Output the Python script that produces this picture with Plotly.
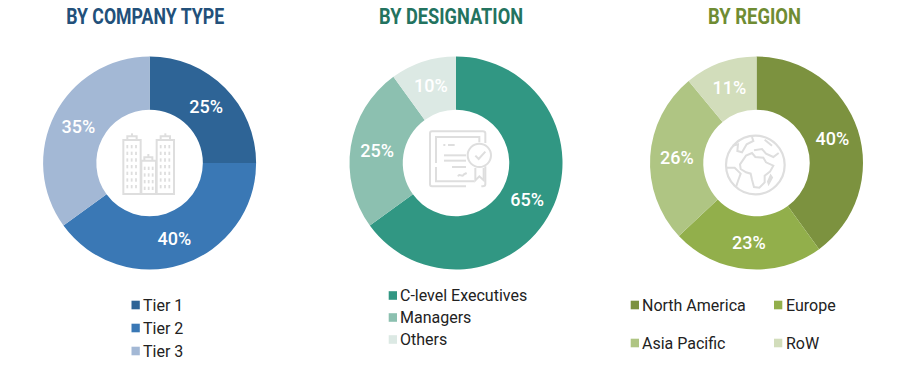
import re
import plotly.graph_objects as go

W, H = 900, 368

# ---------- data ----------
titles = ["BY COMPANY TYPE", "BY DESIGNATION", "BY REGION"]
title_colors = ["#22507A", "#23735F", "#6F8C33"]
title_x = [145, 451, 754]
title_widths = [158, 144, 93]

company_labels = ["Tier 1", "Tier 2", "Tier 3"]
company_values = [25, 40, 35]
company_colors = ["#2E6496", "#3A78B5", "#A3B8D5"]

designation_labels = ["C-level Executives", "Managers", "Others"]
designation_values = [65, 25, 10]
designation_colors = ["#319783", "#8CC0B0", "#DCE9E4"]

region_labels = ["North America", "Europe", "Asia Pacific", "RoW"]
region_values = [40, 23, 26, 11]
region_colors = ["#7C923F", "#92AF4B", "#AFC583", "#D2DDBB"]

# ---------- layout helpers ----------
R = 106.5
CY = 163
centers = [149.6, 456, 756.5]
ICON = "#DEDEDE"


def fx(p):
    return p / W


def fy(p):
    return 1 - p / H


def zpath(ox, oy, d):
    """Icon path given in 3x crop coordinates with origin (ox, oy)."""
    toks = re.findall(r"[MLCZ]|-?\d+\.?\d*", d)
    out, is_x = [], True
    for t in toks:
        if t in "MLCZ":
            out.append(t)
            is_x = True
        elif is_x:
            out.append(f"{fx(ox + float(t) / 3):.5f}")
            is_x = False
        else:
            out.append(f"{fy(oy + float(t) / 3):.5f}")
            is_x = True
    return " ".join(out)


shapes = []
annotations = []


def stroke(ox, oy, d, w=2.0, color=ICON):
    shapes.append(dict(type="path", xref="paper", yref="paper", path=zpath(ox, oy, d),
                       line=dict(color=color, width=w), layer="above"))


fig = go.Figure()
series = [
    (company_labels, company_values, company_colors),
    (designation_labels, designation_values, designation_colors),
    (region_labels, region_values, region_colors),
]
for (labels, values, colors), cx in zip(series, centers):
    fig.add_trace(go.Pie(
        labels=labels, values=values, sort=False, direction="clockwise", rotation=0,
        hole=0.5, marker=dict(colors=colors, line=dict(width=0)),
        textinfo="percent", texttemplate="%{value}%", textposition="inside",
        insidetextorientation="horizontal",
        textfont=dict(family="Roboto", size=18, color="white", weight=500),
        domain=dict(x=[fx(cx - R), fx(cx + R)], y=[fy(CY + R), fy(CY - R)]),
        showlegend=False,
    ))

# titles
for t, c, x in zip(titles, title_colors, title_x):
    annotations.append(dict(text=f"<b>{t}</b>", x=fx(x), y=fy(16.5), xref="paper", yref="paper",
                            xanchor="center", yanchor="middle", showarrow=False,
                            font=dict(family="Roboto", size=22, color=c)))


def legend_item(label, color, sx, y):
    shapes.append(dict(type="rect", xref="paper", yref="paper", layer="above",
                       x0=fx(sx), x1=fx(sx + 8.3), y0=fy(y - 4.3), y1=fy(y + 4.3),
                       fillcolor=color, line=dict(width=0)))
    annotations.append(dict(text=label, x=fx(sx + 9.5), y=fy(y), xref="paper", yref="paper",
                            xanchor="left", yanchor="middle", showarrow=False,
                            font=dict(family="Roboto", size=16, color="#222222")))


for lab, col, y in zip(company_labels, company_colors, [305, 328, 351]):
    legend_item(lab, col, 131.5, y)
for lab, col, y in zip(designation_labels, designation_colors, [295.5, 317.5, 339.5]):
    legend_item(lab, col, 388.7, y)
for lab, col, sx, y in zip(region_labels, region_colors, [630.7, 774, 630.7, 774], [305, 305, 343, 343]):
    legend_item(lab, col, sx, y)

# ---------- building icon ----------
ox, oy = 110, 125
for d in [
    "M 40 207 L 40 45 L 92 45 L 92 207 Z",
    "M 94 207 L 94 107 L 138 107 L 138 207 Z",
    "M 140 207 L 140 45 L 192 45 L 192 207 Z",
    "M 52 45 L 52 34 L 80 34 L 80 45",
    "M 152 45 L 152 34 L 180 34 L 180 45",
    "M 103 107 L 103 97 L 127 97 L 127 107",
    "M 66 34 L 66 25", "M 166 34 L 166 25", "M 115 97 L 115 87",
]:
    stroke(ox, oy, d, 2)
for x0 in (52, 65, 78, 152, 165, 178):
    for k in range(7):
        stroke(ox, oy, f"M {x0} {60 + k * 20} L {x0} {70 + k * 20}", 1.8)
for x0 in (104, 116, 128):
    for k in range(4):
        stroke(ox, oy, f"M {x0} {125 + k * 20} L {x0} {135 + k * 20}", 1.8)

# ---------- certificate icon ----------
ox, oy = 416, 123
for d in [
    "M 150 190 L 48 190 C 44 190 42 188 42 184 L 42 31 C 42 27 44 25 48 25 L 200 25 C 205 25 208 27 208 31 L 208 60",
    "M 208 130 L 208 184 C 208 188 205 190 200 190 L 196 190",
    "M 60 120 L 60 42 L 190 42 L 190 58",
    "M 60 132 L 60 175 L 175 175",
    "M 82 66 L 88 66", "M 96 66 L 116 66",
    "M 84 97 L 150 97", "M 84 113 L 150 113",
    "M 108 132 L 150 132",
    "M 126 160 C 132 148 138 166 144 154 L 152 150",
    "M 178 135 L 178 172 L 190 160 L 203 172 L 203 135",
]:
    stroke(ox, oy, d, 2)
shapes.append(dict(type="circle", xref="paper", yref="paper", layer="above",
                   x0=fx(ox + 155 / 3), x1=fx(ox + 225 / 3),
                   y0=fy(oy + 132 / 3), y1=fy(oy + 62 / 3),
                   fillcolor="white", line=dict(color=ICON, width=2)))
stroke(ox, oy, "M 178 98 L 188 108 L 208 86", 2)

# ---------- globe icon ----------
ox, oy = 716, 125
shapes.append(dict(type="circle", xref="paper", yref="paper", layer="above",
                   x0=fx(ox + 30 / 3), x1=fx(ox + 206 / 3),
                   y0=fy(oy + 208 / 3), y1=fy(oy + 32 / 3),
                   line=dict(color=ICON, width=2.2)))
for d in [
    "M 72 118 L 90 92 L 108 84 L 118 96 L 142 98 L 150 112 L 172 122 L 162 140 L 146 152 L 146 172 L 130 188 L 114 186 L 108 164 L 104 146 L 90 142 L 74 132 Z",
    "M 108 36 L 112 48 L 92 58 L 78 82 L 64 78 L 66 58 L 50 62",
    "M 114 76 L 138 72 L 150 86 L 172 96 L 188 84",
    "M 146 44 L 168 62",
    "M 32 128 L 56 128 L 74 146 L 66 168 L 60 186",
    "M 156 170 L 164 152 L 168 158 L 158 176 Z",
]:
    stroke(ox, oy, d, 2)

fig.update_layout(
    width=W, height=H, autosize=False, margin=dict(l=0, r=0, t=0, b=0),
    paper_bgcolor="white", plot_bgcolor="white",
    shapes=shapes, annotations=annotations,
)

# Remove the page's default margin and narrow the titles to the reference's condensed look.
widths_js = "{" + ",".join(f'"{t}":{w}' for t, w in zip(titles, title_widths)) + "}"
post = (
    "document.body.style.margin='0';document.documentElement.style.overflow='hidden';"
    f"var tw={widths_js};"
    "document.querySelectorAll('.annotation-text').forEach(function(n){"
    "var w=tw[n.textContent];if(!w)return;"
    "n.querySelectorAll('*').forEach(function(c){c.removeAttribute('textLength');});"
    "n.setAttribute('textLength',w);n.setAttribute('lengthAdjust','spacingAndGlyphs');});"
)
fig.write_html("out.html", config=dict(displayModeBar=False), post_script=post)
